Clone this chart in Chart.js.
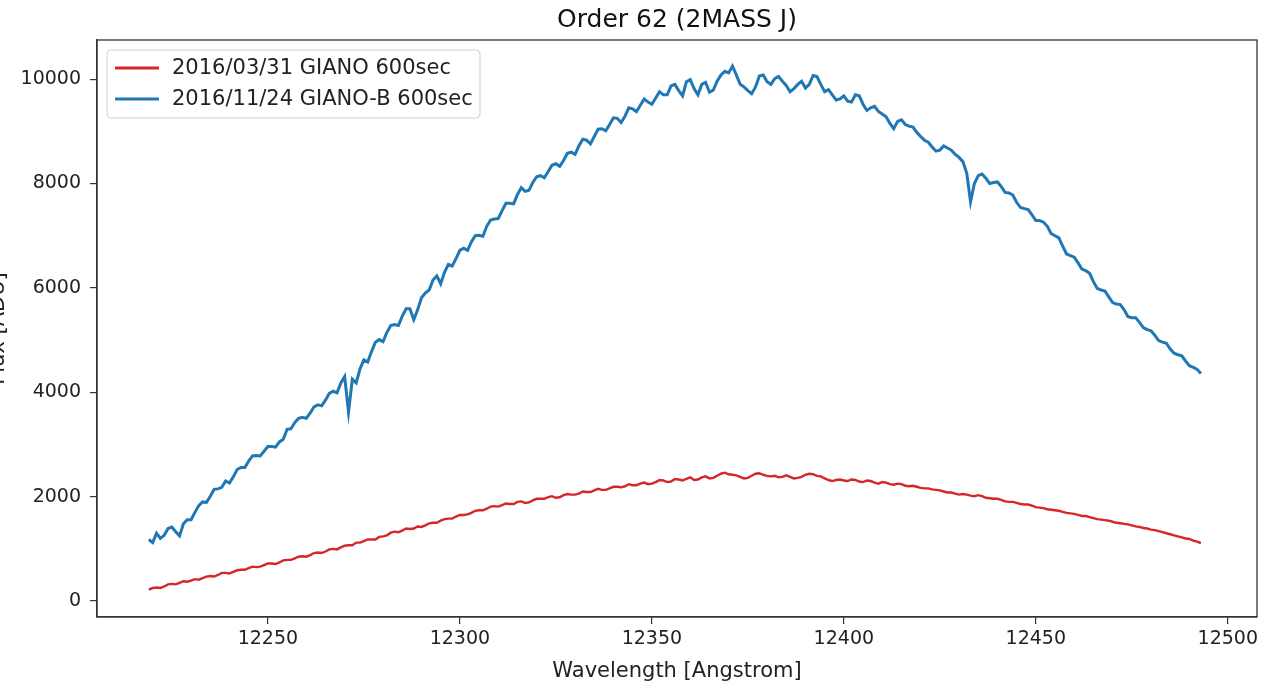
<!DOCTYPE html>
<html>
<head>
<meta charset="utf-8">
<script src="https://cdn.jsdelivr.net/npm/chart.js@4.4.1/dist/chart.umd.min.js"></script>
<style>
html,body{margin:0;padding:0;background:#fff;}
#wrap{width:1263px;height:684px;position:relative;}
</style>
</head>
<body>
<div id="wrap"><canvas id="c"></canvas></div>
<script>
const chartTitle = "Order 62 (2MASS J)";
const xTitle = "Wavelength [Angstrom]";
const yTitle = "Flux [ADU]";
const seriesLabels = ["2016/03/31 GIANO 600sec", "2016/11/24 GIANO-B 600sec"];
const xTicks = [12250, 12300, 12350, 12400, 12450, 12500];
const yTicks = [0, 2000, 4000, 6000, 8000, 10000];

const wavelength = [
12219,12220,12221,12222,12223,12224,12225,12226,12227,12228,12229,12230,12231,12232,12233,12234,12235,12236,12237,12238,
12239,12240,12241,12242,12243,12244,12245,12246,12247,12248,12249,12250,12251,12252,12253,12254,12255,12256,12257,12258,
12259,12260,12261,12262,12263,12264,12265,12266,12267,12268,12269,12270,12271,12272,12273,12274,12275,12276,12277,12278,
12279,12280,12281,12282,12283,12284,12285,12286,12287,12288,12289,12290,12291,12292,12293,12294,12295,12296,12297,12298,
12299,12300,12301,12302,12303,12304,12305,12306,12307,12308,12309,12310,12311,12312,12313,12314,12315,12316,12317,12318,
12319,12320,12321,12322,12323,12324,12325,12326,12327,12328,12329,12330,12331,12332,12333,12334,12335,12336,12337,12338,
12339,12340,12341,12342,12343,12344,12345,12346,12347,12348,12349,12350,12351,12352,12353,12354,12355,12356,12357,12358,
12359,12360,12361,12362,12363,12364,12365,12366,12367,12368,12369,12370,12371,12372,12373,12374,12375,12376,12377,12378,
12379,12380,12381,12382,12383,12384,12385,12386,12387,12388,12389,12390,12391,12392,12393,12394,12395,12396,12397,12398,
12399,12400,12401,12402,12403,12404,12405,12406,12407,12408,12409,12410,12411,12412,12413,12414,12415,12416,12417,12418,
12419,12420,12421,12422,12423,12424,12425,12426,12427,12428,12429,12430,12431,12432,12433,12434,12435,12436,12437,12438,
12439,12440,12441,12442,12443,12444,12445,12446,12447,12448,12449,12450,12451,12452,12453,12454,12455,12456,12457,12458,
12459,12460,12461,12462,12463,12464,12465,12466,12467,12468,12469,12470,12471,12472,12473,12474,12475,12476,12477,12478,
12479,12480,12481,12482,12483,12484,12485,12486,12487,12488,12489,12490,12491,12492,12493
];

const fluxGiano = [
220,250,260,250,280,320,330,320,350,380,370,390,420,410,440,470,480,470,500,540,
540,530,560,590,600,600,630,660,650,660,690,720,720,710,740,780,790,790,820,850,
860,850,880,920,930,920,950,990,1000,990,1030,1060,1070,1070,1120,1120,1150,1180,1180,1180,
1230,1240,1260,1310,1330,1320,1350,1390,1380,1390,1430,1420,1450,1490,1500,1500,1540,1570,1580,1580,
1620,1650,1650,1660,1690,1730,1740,1740,1770,1810,1820,1810,1840,1870,1860,1860,1900,1910,1880,1890,
1930,1960,1960,1960,1990,2010,1980,1990,2030,2050,2040,2040,2060,2100,2090,2090,2120,2150,2130,2130,
2160,2190,2190,2180,2200,2240,2220,2220,2250,2270,2240,2250,2280,2320,2310,2280,2290,2340,2330,2310,
2340,2370,2320,2330,2370,2390,2350,2360,2400,2440,2460,2430,2420,2410,2380,2350,2360,2400,2440,2450,
2420,2400,2390,2400,2370,2380,2410,2380,2350,2360,2380,2420,2440,2430,2400,2390,2350,2320,2300,2320,
2330,2310,2300,2330,2320,2290,2280,2310,2300,2270,2250,2280,2270,2240,2230,2250,2240,2210,2200,2210,
2190,2170,2160,2160,2140,2130,2120,2100,2080,2080,2060,2040,2050,2040,2020,2010,2030,2010,1980,1970,
1960,1960,1940,1910,1900,1900,1880,1860,1850,1850,1830,1800,1790,1780,1760,1750,1740,1730,1710,1690,
1680,1670,1650,1630,1630,1610,1590,1570,1560,1550,1540,1520,1500,1490,1480,1470,1450,1430,1420,1400,
1390,1370,1360,1340,1320,1300,1280,1260,1240,1220,1200,1190,1160,1140,1110
];

const fluxGianoB = [
1180,1120,1300,1200,1260,1390,1420,1330,1250,1480,1560,1560,1700,1830,1900,1890,2010,2140,2150,2180,
2300,2260,2380,2520,2560,2560,2680,2780,2790,2780,2870,2960,2960,2950,3050,3100,3290,3300,3420,3500,
3520,3500,3600,3720,3760,3740,3850,3980,4020,3990,4180,4300,3620,4250,4180,4450,4620,4580,4780,4960,
5010,4970,5150,5280,5300,5280,5460,5600,5600,5390,5580,5810,5900,5960,6150,6230,6080,6300,6450,6420,
6560,6720,6760,6720,6880,7000,7010,6990,7180,7300,7320,7330,7480,7620,7620,7610,7790,7920,7850,7870,
8020,8130,8150,8110,8230,8350,8380,8330,8440,8580,8600,8560,8720,8850,8830,8760,8900,9040,9050,9010,
9130,9260,9250,9170,9290,9450,9430,9380,9500,9620,9560,9520,9640,9760,9700,9700,9870,9900,9780,9680,
9950,9990,9820,9700,9900,9940,9750,9790,9960,10080,10150,10120,10250,10080,9900,9850,9780,9720,9850,10060,
10080,9950,9900,10010,10050,9960,9880,9760,9820,9900,9960,9830,9900,10070,10050,9900,9760,9800,9700,9600,
9620,9680,9580,9560,9700,9680,9520,9400,9450,9480,9380,9330,9280,9150,9050,9190,9220,9130,9100,9080,
8980,8900,8830,8790,8700,8620,8640,8720,8680,8640,8560,8500,8420,8200,7650,8000,8150,8180,8100,8000,
8020,8030,7940,7830,7820,7780,7640,7540,7520,7500,7400,7290,7290,7260,7180,7040,7000,6960,6800,6650,
6620,6590,6480,6360,6330,6280,6120,5990,5960,5940,5830,5720,5690,5680,5580,5450,5430,5430,5340,5240,
5200,5180,5090,4990,4960,4940,4830,4750,4720,4700,4600,4510,4480,4440,4360
];

const FONT = "'DejaVu Sans', sans-serif";
const textColor = "#222";
const axisColor = "#333";

const framePlugin = {
  id: 'frame',
  afterDatasetsDraw(chart) {
    const {ctx, chartArea: a} = chart;
    ctx.save();
    ctx.strokeStyle = axisColor;
    ctx.lineWidth = 1.3;
    ctx.strokeRect(a.left, a.top, a.right - a.left, a.bottom - a.top);
    ctx.restore();
  }
};

const titlePlugin = {
  id: 'plotTitle',
  afterDraw(chart) {
    const {ctx, chartArea: a} = chart;
    ctx.save();
    ctx.font = "25px " + FONT;
    ctx.fillStyle = '#111';
    ctx.textAlign = 'center';
    ctx.textBaseline = 'middle';
    ctx.fillText(chartTitle, (a.left + a.right) / 2, 20);
    ctx.restore();
  }
};

const legendBoxPlugin = {
  id: 'legendBox',
  afterDatasetsDraw(chart) {
    const {ctx, chartArea: a} = chart;
    const x0 = a.left + 10, y0 = a.top + 10, w = 373, h = 68;
    ctx.save();
    ctx.beginPath();
    if (ctx.roundRect) ctx.roundRect(x0, y0, w, h, 4); else ctx.rect(x0, y0, w, h);
    ctx.fillStyle = 'rgba(255,255,255,0.85)';
    ctx.fill();
    ctx.strokeStyle = '#d0d0d0';
    ctx.lineWidth = 1;
    ctx.stroke();
    ctx.font = "21px " + FONT;
    ctx.textBaseline = 'middle';
    ctx.textAlign = 'left';
    chart.data.datasets.forEach((ds, i) => {
      const yy = y0 + 18 + i * 31;
      ctx.strokeStyle = ds.borderColor;
      ctx.lineWidth = 3;
      ctx.beginPath();
      ctx.moveTo(x0 + 8, yy);
      ctx.lineTo(x0 + 52, yy);
      ctx.stroke();
      ctx.fillStyle = textColor;
      ctx.fillText(ds.label, x0 + 65, yy + 1);
    });
    ctx.restore();
  }
};

new Chart(document.getElementById('c'), {
  type: 'line',
  data: {
    datasets: [
      {
        label: seriesLabels[0],
        data: wavelength.map((x, i) => ({x: x, y: fluxGiano[i]})),
        borderColor: '#d62728',
        borderWidth: 2.4,
        pointRadius: 0,
        tension: 0
      },
      {
        label: seriesLabels[1],
        data: wavelength.map((x, i) => ({x: x, y: fluxGianoB[i]})),
        borderColor: '#1f77b4',
        borderWidth: 3,
        pointRadius: 0,
        tension: 0
      }
    ]
  },
  options: {
    responsive: true,
    maintainAspectRatio: false,
    animation: false,
    layout: {padding: {left: 0, right: 6, top: 40, bottom: 0}},
    plugins: {
      legend: {display: false},
      tooltip: {enabled: false},
      title: {display: false}
    },
    scales: {
      x: {
        type: 'linear',
        min: 12205.5,
        max: 12507.6,
        afterBuildTicks(scale) { scale.ticks = xTicks.map(v => ({value: v})); },
        afterFit(scale) { scale.height = 67; },
        grid: {drawOnChartArea: false, drawTicks: true, tickLength: 7, color: axisColor, lineWidth: 1.2},
        border: {display: true, color: axisColor, width: 1.3},
        ticks: {
          color: textColor,
          font: {family: FONT, size: 19},
          padding: 4,
          maxRotation: 0,
          callback: v => String(v)
        },
        title: {
          display: true,
          text: xTitle,
          color: textColor,
          font: {family: FONT, size: 21},
          padding: {top: 2, bottom: 0}
        }
      },
      y: {
        type: 'linear',
        min: -305,
        max: 10750,
        afterBuildTicks(scale) { scale.ticks = yTicks.map(v => ({value: v})); },
        afterFit(scale) { scale.width = 97; },
        grid: {drawOnChartArea: false, drawTicks: true, tickLength: 7, color: axisColor, lineWidth: 1.2},
        border: {display: true, color: axisColor, width: 1.3},
        ticks: {
          color: textColor,
          font: {family: FONT, size: 19},
          padding: 9,
          callback: v => String(v)
        },
        title: {
          display: true,
          text: yTitle,
          color: textColor,
          font: {family: FONT, size: 21},
          padding: {top: -14, bottom: 0}
        }
      }
    }
  },
  plugins: [framePlugin, legendBoxPlugin, titlePlugin]
});
</script>
</body>
</html>
